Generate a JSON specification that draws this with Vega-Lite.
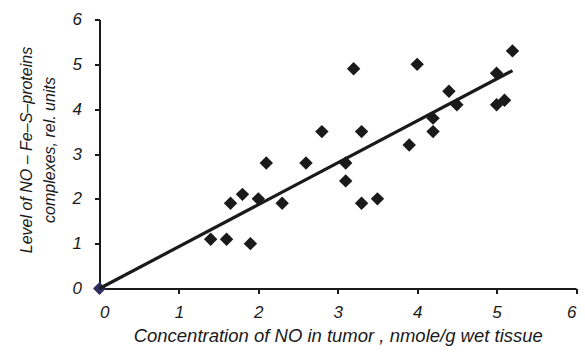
{
  "$schema": "https://vega.github.io/schema/vega-lite/v6.json",
  "autosize": "none",
  "width": 476.5,
  "height": 269,
  "padding": {"left": 99.5, "top": 19.5, "right": 9, "bottom": 68.5},
  "background": "white",
  "config": {
    "view": {"stroke": null},
    "font": "Liberation Sans, Arial, sans-serif",
    "axis": {
      "grid": false,
      "domainColor": "#1a1a1a",
      "domainWidth": 2,
      "tickColor": "#1a1a1a",
      "tickWidth": 2,
      "tickSize": 5,
      "labelFont": "Liberation Sans, Arial, sans-serif",
      "labelFontStyle": "italic",
      "labelFontSize": 17,
      "labelColor": "#1a1a1a",
      "titleFont": "Liberation Sans, Arial, sans-serif",
      "titleFontStyle": "italic",
      "titleFontWeight": "normal",
      "titleFontSize": 16,
      "titleColor": "#1a1a1a"
    }
  },
  "datasets": {
    "points": [
      {"conc": 1.4, "level": 1.1},
      {"conc": 1.6, "level": 1.1},
      {"conc": 1.9, "level": 1.0},
      {"conc": 1.65, "level": 1.9},
      {"conc": 1.8, "level": 2.1},
      {"conc": 2.0, "level": 2.0},
      {"conc": 2.3, "level": 1.9},
      {"conc": 2.1, "level": 2.8},
      {"conc": 2.6, "level": 2.8},
      {"conc": 2.8, "level": 3.5},
      {"conc": 3.3, "level": 3.5},
      {"conc": 3.1, "level": 2.8},
      {"conc": 3.1, "level": 2.4},
      {"conc": 3.3, "level": 1.9},
      {"conc": 3.5, "level": 2.0},
      {"conc": 3.2, "level": 4.9},
      {"conc": 4.0, "level": 5.0},
      {"conc": 4.4, "level": 4.4},
      {"conc": 4.5, "level": 4.1},
      {"conc": 4.2, "level": 3.8},
      {"conc": 4.2, "level": 3.5},
      {"conc": 3.9, "level": 3.2},
      {"conc": 5.2, "level": 5.3},
      {"conc": 5.0, "level": 4.8},
      {"conc": 5.0, "level": 4.1},
      {"conc": 5.1, "level": 4.2}
    ],
    "origin": [{"conc": 0, "level": 0}],
    "trend": [
      {"conc": 0, "level": 0},
      {"conc": 5.2, "level": 4.86}
    ]
  },
  "encoding": {
    "x": {
      "field": "conc",
      "type": "quantitative",
      "scale": {"domain": [0, 6], "nice": false},
      "axis": {
        "values": [0, 1, 2, 3, 4, 5, 6],
        "labelPadding": 11,
        "title": "Concentration of NO in tumor , nmole/g wet tissue",
        "titleFontSize": 18.5,
        "titleBaseline": "alphabetic",
        "titleY": 53
      }
    },
    "y": {
      "field": "level",
      "type": "quantitative",
      "scale": {"domain": [0, 6], "nice": false},
      "axis": {
        "values": [0, 1, 2, 3, 4, 5, 6],
        "labelPadding": 13,
        "title": ["Level of NO – Fe–S–proteins", "complexes, rel. units"],
        "titleBaseline": "alphabetic",
        "titleLineHeight": 23,
        "titleX": -68,
        "titleY": 130
      }
    }
  },
  "layer": [
    {
      "data": {"name": "origin"},
      "mark": {"type": "point", "shape": "diamond", "filled": true, "size": 170, "color": "#2e2d5e", "opacity": 1}
    },
    {
      "data": {"name": "trend"},
      "mark": {"type": "line", "color": "#1a1a1a", "strokeWidth": 3.2}
    },
    {
      "data": {"name": "points"},
      "mark": {"type": "point", "shape": "diamond", "filled": true, "size": 180, "color": "#1a1a1a", "opacity": 1}
    }
  ]
}
